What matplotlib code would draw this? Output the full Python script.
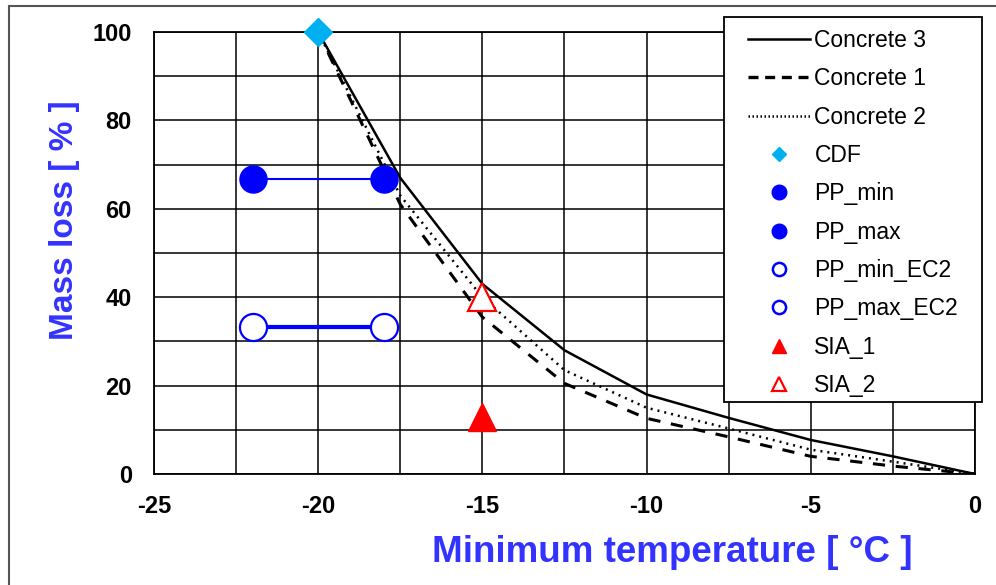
import matplotlib
matplotlib.use("Agg")
import matplotlib.pyplot as plt
from matplotlib.lines import Line2D
from matplotlib.patches import Rectangle
from matplotlib.ticker import MultipleLocator

plt.rcParams['font.family'] = ['Liberation Sans', 'DejaVu Sans']
plt.rcParams['axes.unicode_minus'] = False

# curves: mass loss vs minimum temperature
temps = [-20, -17.5, -15, -12.5, -10, -7.5, -5, -2.5, 0]
concrete3 = [100, 67, 43, 28, 18, 12.7, 7.7, 4.0, 0]
concrete1 = [100, 61, 35.5, 20.5, 12.6, 8.4, 4.0, 1.8, 0]
concrete2 = [100, 63, 40, 23.5, 15, 10.3, 5.5, 2.8, 0]

# single test points
cdf_x, cdf_y = [-20], [100]
pp_x = [-22, -18]
pp_y = [66.7, 66.7]
pp_ec2_x = [-22, -18]
pp_ec2_y = [33.3, 33.3]
sia1_x, sia1_y = [-15], [13]
sia2_x, sia2_y = [-15], [40]

blue = "#0000FF"
label_blue = "#3333FF"
red = "#FF0000"
cyan = "#00B0F0"

fig = plt.figure(figsize=(9.96, 5.85), dpi=100)
ax = fig.add_axes([0.1546, 0.1897, 0.8243, 0.7556])

ax.plot(temps, concrete3, color="black", lw=1.8, zorder=3)
ax.plot(temps, concrete1, color="black", lw=2.2, ls=(0, (4, 3.5)), zorder=3)
ax.plot(temps, concrete2, color="black", lw=1.8, ls=(0, (0.8, 2.0)), zorder=3)

ax.plot(pp_x, pp_y, color=blue, lw=1.5, marker="o", ms=19.5,
        mfc=blue, mec=blue, zorder=4, clip_on=False)
ax.plot(pp_ec2_x, pp_ec2_y, color=blue, lw=3, marker="o", ms=19.5,
        mfc="white", mec=blue, mew=1.6, zorder=4, clip_on=False)
ax.plot(cdf_x, cdf_y, ls="none", marker="D", ms=14, color=cyan,
        zorder=5, clip_on=False)
ax.plot(sia1_x, sia1_y, ls="none", marker="^", ms=20, color=red, zorder=5)
ax.plot(sia2_x, sia2_y, ls="none", marker="^", ms=20, mfc="white",
        mec=red, mew=1.6, zorder=5)

ax.set_xlim(-25, 0)
ax.set_ylim(0, 100)
ax.xaxis.set_major_locator(MultipleLocator(5))
ax.xaxis.set_minor_locator(MultipleLocator(2.5))
ax.yaxis.set_major_locator(MultipleLocator(20))
ax.yaxis.set_minor_locator(MultipleLocator(10))
ax.grid(True, which="both", color="black", lw=1.1, zorder=1)
ax.set_axisbelow(True)
ax.tick_params(which="both", length=0, labelsize=17)
ax.tick_params(axis="x", pad=15)
ax.tick_params(axis="y", pad=16)
for t in ax.get_xticklabels() + ax.get_yticklabels():
    t.set_fontweight("bold")
for s in ax.spines.values():
    s.set_linewidth(1.3)

ax.set_xlabel("Minimum temperature [ °C ]", fontsize=26.5, fontweight="bold",
              color=label_blue)
ax.xaxis.set_label_coords(0.631, -0.137)
ax.set_ylabel("Mass loss [ % ]", fontsize=24, fontweight="bold",
              color=label_blue)
ax.yaxis.set_label_coords(-0.09, 0.575)

handles = [
    Line2D([], [], color="black", lw=1.8, label="Concrete 3"),
    Line2D([], [], color="black", lw=2.4, ls=(0, (3, 2)), label="Concrete 1"),
    Line2D([], [], color="black", lw=1.8, ls=(0, (0.6, 1)), label="Concrete 2"),
    Line2D([], [], ls="none", marker="D", ms=7, color=cyan, label="CDF"),
    Line2D([], [], ls="none", marker="o", ms=10.5, color=blue, label="PP_min"),
    Line2D([], [], ls="none", marker="o", ms=10.5, color=blue, label="PP_max"),
    Line2D([], [], ls="none", marker="o", ms=9.5, mfc="white", mec=blue,
           mew=1.8, label="PP_min_EC2"),
    Line2D([], [], ls="none", marker="o", ms=9.5, mfc="white", mec=blue,
           mew=1.8, label="PP_max_EC2"),
    Line2D([], [], ls="none", marker="^", ms=10, color=red, label="SIA_1"),
    Line2D([], [], ls="none", marker="^", ms=10, mfc="white", mec=red,
           mew=1.6, label="SIA_2"),
]
leg = fig.legend(handles=handles, loc="upper left",
                 bbox_to_anchor=(748 / 996, 1 - 29 / 585), fontsize=16.5,
                 frameon=False, handlelength=2.7, handletextpad=0.2,
                 labelspacing=0.67, borderpad=0, borderaxespad=0)

# legend frame
fig.patches.append(Rectangle((724 / 996, 1 - 402 / 585), 258 / 996,
                             385 / 585, transform=fig.transFigure,
                             facecolor="white", edgecolor="black", lw=1.3,
                             zorder=2.5))
leg.set_zorder(3)

# outer frame of the picture
fig.patches.append(Rectangle((9 / 996, -0.05), 1.2, 1 - 6 / 585 + 0.05,
                             transform=fig.transFigure, fill=False,
                             edgecolor="#555555", lw=1.5))

fig.savefig("out.png", dpi=100)
